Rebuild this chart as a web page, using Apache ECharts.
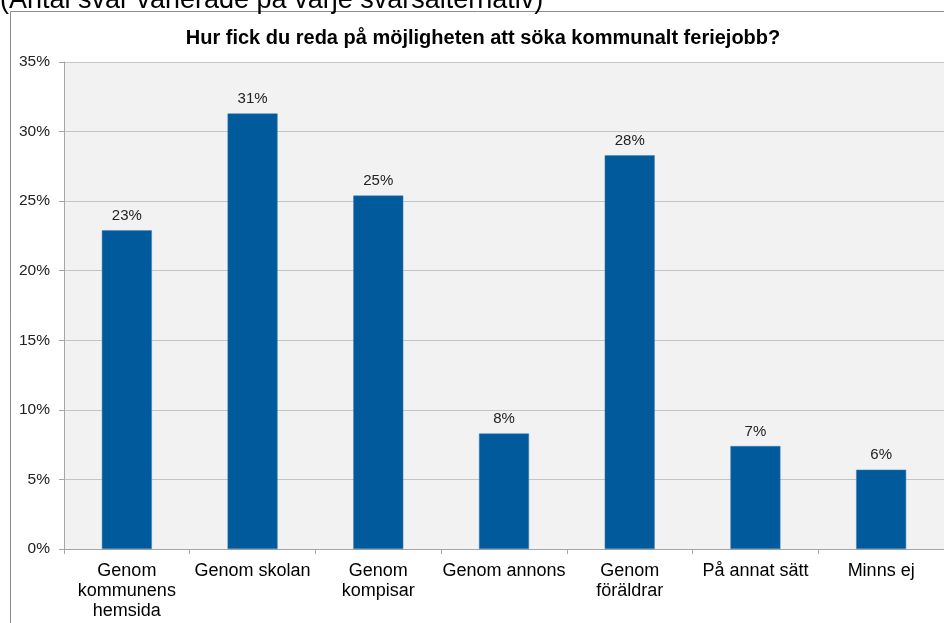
<!DOCTYPE html>
<html>
<head>
<meta charset="utf-8">
<script src="https://cdn.jsdelivr.net/npm/echarts@6/dist/echarts.min.js"></script>
<style>
  html, body { margin: 0; padding: 0; background: #fff; }
  #main { width: 944px; height: 623px; }
</style>
</head>
<body>
<div id="main"></div>
<script>
// svarsalternativ och andel (%)
var categories = [
  "Genom\nkommunens\nhemsida",
  "Genom skolan",
  "Genom\nkompisar",
  "Genom annons",
  "Genom\nföräldrar",
  "På annat sätt",
  "Minns ej"
];
var values = [22.9, 31.3, 25.4, 8.3, 28.3, 7.4, 5.7];
var yTicks = [0, 5, 10, 15, 20, 25, 30, 35];

var chart = echarts.init(document.getElementById("main"));

var option = {
  animation: false,
  textStyle: { fontFamily: "Liberation Sans, Arial, sans-serif" },
  graphic: [
    {
      type: "rect",
      shape: { x: 10.5, y: 11.5, width: 960, height: 640 },
      style: { fill: "none", stroke: "#8c8c8c", lineWidth: 1 },
      z: -10
    },
    {
      type: "text",
      left: 0,
      top: -13,
      style: {
        text: "(Antal svar varierade på varje svarsalternativ)",
        font: "27px Liberation Sans, Arial, sans-serif",
        fill: "#000"
      }
    }
  ],
  title: {
    text: "Hur fick du reda på möjligheten att söka kommunalt feriejobb?",
    left: 478,
    textAlign: "center",
    top: 23,
    textStyle: { fontSize: 20, fontWeight: "bold", color: "#000" }
  },
  grid: {
    left: 64,
    top: 62,
    width: 882,
    height: 487,
    show: true,
    backgroundColor: "#f2f2f2",
    borderWidth: 0
  },
  xAxis: {
    type: "category",
    data: categories,
    axisLine: { lineStyle: { color: "#a6a6a6" } },
    axisTick: { show: true, length: 5, lineStyle: { color: "#a6a6a6" } },
    axisLabel: {
      color: "#000",
      fontSize: 18,
      lineHeight: 20,
      margin: 12,
      interval: 0
    }
  },
  yAxis: {
    type: "value",
    min: 0,
    max: 35,
    interval: 5,
    axisLine: { show: true, lineStyle: { color: "#a6a6a6" } },
    axisTick: { show: true, length: 5, lineStyle: { color: "#a6a6a6" } },
    splitLine: { lineStyle: { color: "#c4c4c4" } },
    axisLabel: {
      color: "#222",
      fontSize: 15.5,
      margin: 14,
      formatter: function (v) {
        return yTicks.indexOf(v) >= 0 ? v + "%" : "";
      }
    }
  },
  series: [
    {
      type: "bar",
      data: values,
      barWidth: 50,
      itemStyle: { color: "#005a9b", borderColor: "#3d7fb8", borderWidth: 0.5 },
      label: {
        show: true,
        position: "top",
        distance: 7,
        color: "#222",
        fontSize: 15,
        formatter: function (p) {
          return Math.round(p.value) + "%";
        }
      }
    }
  ]
};

chart.setOption(option);
</script>
</body>
</html>
